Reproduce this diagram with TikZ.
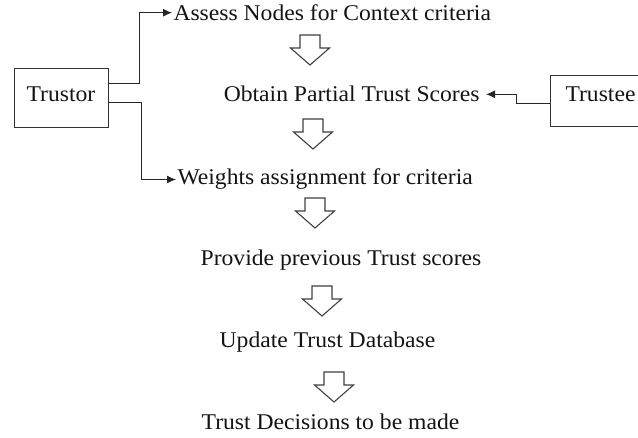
\documentclass[tikz,border=0pt]{standalone}
\usepackage{fontspec}
\setmainfont[FakeStretch=1.05]{Liberation Serif}
\usetikzlibrary{arrows.meta}
\begin{document}
\begin{tikzpicture}[x=1pt,y=-1pt,
  line width=1pt,
  every node/.style={font=\fontsize{22.5}{26}\selectfont, text=black!92},
  party/.style={draw=black!80, inner sep=0pt},
  step text/.style={inner sep=1pt},
  link/.style={draw=black!85, -{Latex[length=9pt,width=8pt]}},
  hollow/.style={draw=black!75, fill=white, line width=1.1pt, line join=miter},
  pics/downarrow/.style={code={
    \draw[hollow] (-10,0) -- (10,0) -- (10,13) -- (19.5,13) -- (0,30)
                  -- (-19.5,13) -- (-10,13) -- cycle;}}
]
\useasboundingbox (0,0) rectangle (638,438);
\clip (0,0) rectangle (638,438);

% the two parties
\node[party, minimum width=94pt, minimum height=59pt] (trustor) at (61,98.5) {};
\node[anchor=base] (trustortext) at (61,102) {Trustor};
\node[party, minimum width=98pt, minimum height=51pt] (trustee) at (599,101.5) {};
\node[anchor=base west, inner sep=0pt] (trusteetext) at (565,102) {Trustee};

% process steps
\node[step text, anchor=base west] (assess) at (172,20.5) {Assess Nodes for Context criteria};
\node[step text, inner xsep=6pt, anchor=base east] (obtain) at (486,102) {Obtain Partial Trust Scores};
\node[step text, anchor=base west] (weights) at (176,185) {Weights assignment for criteria};
\node[step text, anchor=base] (provide) at (341,266) {Provide previous Trust scores};
\node[step text, anchor=base] (update) at (327.5,348) {Update Trust Database};
\node[step text, anchor=base] (decide) at (330.5,430) {Trust Decisions to be made};

% hollow arrows between steps
\pic at (310,35) {downarrow};
\pic at (313,119) {downarrow};
\pic at (315,198) {downarrow};
\pic at (322,286) {downarrow};
\pic at (334,372) {downarrow};

% connectors
\draw[link] ([yshift=14.5pt]trustor.east) -- ++(31,0) |- (assess.west);
\draw[link] ([yshift=-4.5pt]trustor.east) -- ++(33,0) |- (weights.west);
\draw[link] ([yshift=-2.5pt]trustee.west) -- ++(-33,0) |- (obtain.east);
\end{tikzpicture}
\end{document}
